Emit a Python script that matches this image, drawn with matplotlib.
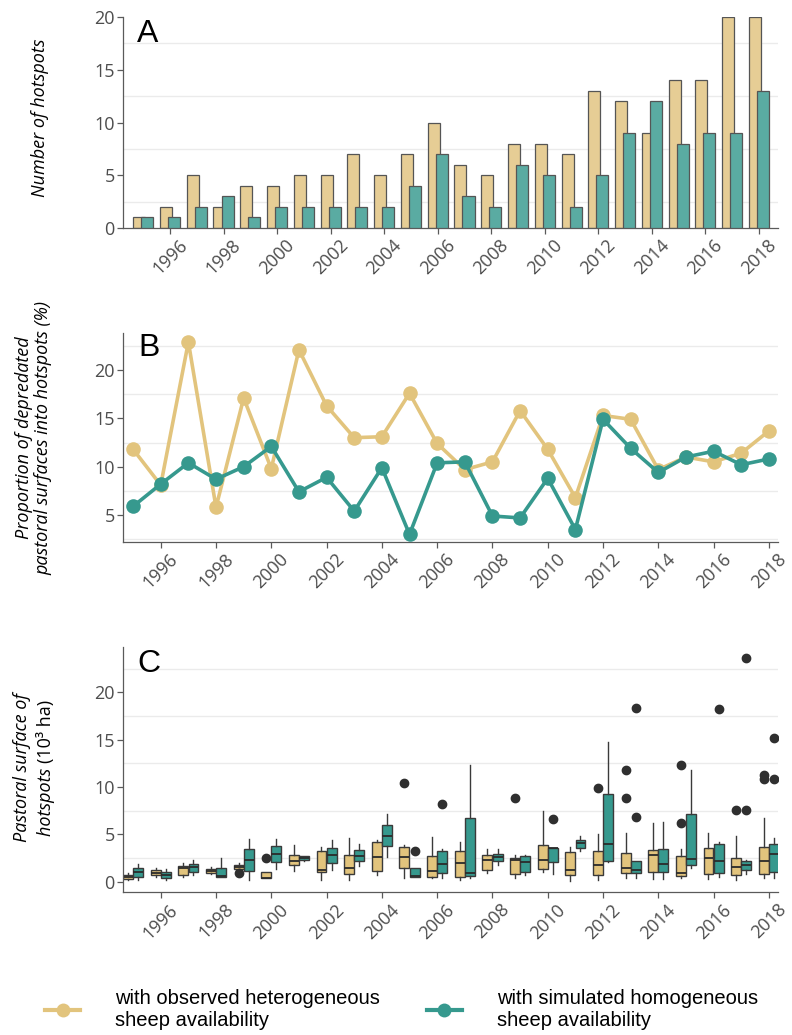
import matplotlib
matplotlib.use("Agg")
import matplotlib.pyplot as plt
from matplotlib.lines import Line2D
import numpy as np

plt.rcParams["font.family"] = ["Open Sans", "DejaVu Sans"]

years = np.arange(1995, 2019)
tick_years = np.arange(1996, 2019, 2)

# Panel A: number of hotspots per year
hotspots_observed = [1, 2, 5, 2, 4, 4, 5, 5, 7, 5, 7, 10, 6, 5, 8, 8, 7, 13, 12, 9, 14, 14, 20, 20]
hotspots_simulated = [1, 1, 2, 3, 1, 2, 2, 2, 2, 2, 4, 7, 3, 2, 6, 5, 2, 5, 9, 12, 8, 9, 9, 13]

# Panel B: proportion of depredated pastoral surfaces inside hotspots (%)
prop_observed = [11.8, 8.1, 22.9, 5.8, 17.1, 9.8, 22.1, 16.3, 13.0, 13.1, 17.6, 12.4,
                 9.7, 10.5, 15.8, 11.8, 6.8, 15.3, 14.9, 9.7, 11.0, 10.5, 11.4, 13.7]
prop_simulated = [5.9, 8.2, 10.4, 8.7, 10.0, 12.1, 7.4, 8.9, 5.4, 9.9, 3.0, 10.4,
                  10.5, 4.9, 4.7, 8.8, 3.5, 14.9, 11.9, 9.4, 11.0, 11.6, 10.2, 10.8]

# Panel C: pastoral surface of hotspots (10^3 ha), box statistics per year
obs_whislo = [0.20, 0.46, 0.46, 0.81, 1.24, 0.36, 1.10, 0.18, 0.18, 0.67, 0.36, 0.36,
              0.18, 0.88, 0.36, 1.02, 0.11, 0.18, 0.36, 0.25, 0.36, 0.25, 0.18, 0.42]
obs_q1 = [0.32, 0.67, 0.67, 0.88, 1.34, 0.36, 1.73, 0.99, 0.78, 1.13, 1.41, 0.53,
          0.46, 1.24, 0.81, 1.38, 0.67, 0.71, 0.88, 1.02, 0.60, 0.78, 0.71, 0.81]
obs_med = [0.50, 0.88, 1.41, 1.13, 1.55, 0.42, 2.22, 1.24, 1.41, 2.61, 2.57, 1.13,
           2.01, 2.29, 2.32, 2.25, 1.24, 1.80, 1.41, 2.82, 0.95, 2.46, 1.52, 2.19]
obs_q3 = [0.75, 1.20, 1.66, 1.38, 1.73, 1.06, 2.85, 3.28, 2.82, 4.16, 3.63, 2.71,
          3.24, 2.85, 2.46, 3.84, 3.10, 3.24, 3.00, 3.31, 2.75, 3.59, 2.46, 3.63]
obs_whishi = [0.95, 1.48, 1.94, 1.52, 1.94, 1.06, 3.84, 3.63, 4.58, 4.40, 3.88, 4.76,
              4.16, 3.42, 2.85, 7.47, 3.63, 5.04, 5.11, 6.16, 3.45, 5.11, 4.79, 6.76]
obs_fliers = [[], [], [], [], [0.88], [2.50], [], [], [], [], [10.46], [],
              [], [], [8.80], [], [], [9.89], [11.8, 8.84], [], [12.36, 6.20], [], [7.54], [11.27, 10.81]]

sim_whislo = [0.18, 0.18, 0.67, 0.50, 0.18, 1.31, 2.22, 1.24, 1.66, 2.64, 0.53, 0.36,
              0.36, 1.76, 0.67, 0.78, 3.28, 2.05, 0.36, 0.25, 1.41, 0.53, 0.81, 0.36]
sim_q1 = [0.53, 0.36, 1.02, 0.53, 1.16, 2.12, 2.29, 1.94, 2.19, 3.77, 0.53, 0.95,
          0.60, 2.19, 1.06, 2.12, 3.59, 2.19, 0.88, 1.06, 1.76, 0.95, 1.24, 1.06]
sim_med = [0.99, 0.74, 1.52, 0.60, 2.29, 2.89, 2.50, 2.82, 2.75, 4.86, 0.60, 1.87,
           0.95, 2.57, 2.08, 3.52, 4.05, 3.95, 1.24, 1.83, 2.40, 2.19, 1.76, 2.89]
sim_q3 = [1.41, 1.02, 1.90, 1.48, 3.42, 3.73, 2.68, 3.52, 3.35, 5.99, 1.41, 3.24,
          6.69, 2.96, 2.71, 3.59, 4.40, 9.23, 2.15, 3.42, 7.11, 3.95, 2.15, 4.00]
sim_whishi = [1.87, 1.34, 2.29, 2.47, 4.47, 4.54, 2.75, 4.40, 3.95, 7.11, 1.41, 3.42,
              12.32, 3.42, 2.85, 3.59, 4.79, 14.72, 2.15, 6.30, 11.80, 4.19, 2.30, 4.58]
sim_fliers = [[], [], [], [], [], [], [], [], [], [], [3.24], [8.20],
              [], [], [], [6.59], [], [], [6.83, 18.34], [], [], [18.2], [7.54, 23.6], [10.85, 15.2]]

legend_labels = ["with observed heterogeneous\nsheep availability",
                 "with simulated homogeneous\nsheep availability"]

# colours
YEL_BAR, TEAL_BAR = "#E6CD95", "#5AABA2"
YEL, TEAL = "#E2C47D", "#36998E"
AXIS_GREY = "#5a5a5a"
GRID = "#ebebeb"

W, H = 792, 1035
fig = plt.figure(figsize=(W / 100, H / 100), dpi=100)


def px_axes(left, top, right, bottom):
    return fig.add_axes([left / W, 1 - bottom / H, (right - left) / W, (bottom - top) / H])


def style_axes(ax, yticks, yminor):
    for s in ("top", "right"):
        ax.spines[s].set_visible(False)
    for s in ("left", "bottom"):
        ax.spines[s].set_color(AXIS_GREY)
        ax.spines[s].set_linewidth(0.9)
    ax.set_xticks(tick_years)
    ax.set_xticklabels([str(y) for y in tick_years], rotation=45, ha="center", va="top")
    ax.set_yticks(yticks)
    ax.set_yticks(yminor, minor=True)
    ax.grid(which="minor", axis="y", color=GRID, linewidth=1.0, zorder=0)
    ax.grid(which="major", visible=False)
    ax.tick_params(which="major", length=4, width=0.9, color=AXIS_GREY,
                   labelcolor="#4d4d4d", labelsize=13, pad=2)
    ax.tick_params(which="minor", length=0)
    ax.set_axisbelow(True)


def panel_letter(ax, left_px, baseline_px, ax_left, ax_top, ax_w, ax_h, letter):
    ax.text((left_px - ax_left) / ax_w, 1 - (baseline_px - ax_top) / ax_h, letter,
            transform=ax.transAxes, fontsize=23, family="Liberation Sans",
            va="baseline", ha="left")


# ---- A: bar chart ----
axA = px_axes(123, 17, 778, 228)
axA.bar(years - 0.15, hotspots_observed, width=0.45, color=YEL_BAR,
        edgecolor="#555555", linewidth=0.9, zorder=2)
axA.bar(years + 0.15, hotspots_simulated, width=0.45, color=TEAL_BAR,
        edgecolor="#555555", linewidth=0.9, zorder=3)
axA.set_xlim(1994.245, 2018.71)
axA.set_ylim(0, 20)
style_axes(axA, [0, 5, 10, 15, 20], [2.5, 7.5, 12.5, 17.5])
panel_letter(axA, 137, 42, 123, 17, 655, 211, "A")

# ---- B: line chart ----
axB = px_axes(123, 333, 778, 542)
axB.plot(years, prop_observed, color=YEL, lw=2.6, marker="o", ms=10.5,
         markeredgewidth=0, zorder=3)
axB.plot(years, prop_simulated, color=TEAL, lw=2.6, marker="o", ms=10.5,
         markeredgewidth=0, zorder=4)
axB.set_xlim(1994.635, 2018.33)
axB.set_ylim(2.21, 23.83)
style_axes(axB, [5, 10, 15, 20], [2.5, 7.5, 12.5, 17.5, 22.5])
panel_letter(axB, 138, 356, 123, 333, 655, 209, "B")

# ---- C: box plots ----
axC = px_axes(123, 647, 778, 892.3)


def box_stats(lo, q1, med, q3, hi, fl):
    return [dict(whislo=a, q1=b, med=c, q3=d, whishi=e, fliers=f)
            for a, b, c, d, e, f in zip(lo, q1, med, q3, hi, fl)]


common = dict(widths=0.36, showcaps=False, patch_artist=True,
              medianprops=dict(color="#2b2b2b", linewidth=1.3),
              whiskerprops=dict(color="#3a3a3a", linewidth=1.0),
              flierprops=dict(marker="o", markerfacecolor="#2f2f2f",
                              markeredgecolor="#2f2f2f", markersize=6))
axC.bxp(box_stats(obs_whislo, obs_q1, obs_med, obs_q3, obs_whishi, obs_fliers),
        positions=years - 0.185, boxprops=dict(facecolor=YEL, edgecolor="#3a3a3a",
                                                linewidth=1.0), **common)
axC.bxp(box_stats(sim_whislo, sim_q1, sim_med, sim_q3, sim_whishi, sim_fliers),
        positions=years + 0.185, boxprops=dict(facecolor=TEAL, edgecolor="#3a3a3a",
                                                linewidth=1.0), **common)
axC.set_xlim(1994.635, 2018.33)
axC.set_ylim(-1.12, 24.78)
style_axes(axC, [0, 5, 10, 15, 20], [2.5, 7.5, 12.5, 17.5, 22.5])
panel_letter(axC, 137, 672, 123, 647, 655, 245.3, "C")

# ---- y-axis titles ----
lab_kw = dict(rotation=90, fontsize=13, style="italic", color="black")
fig.text(40 / W, 1 - 118 / H, "Number of hotspots", ha="center", va="center", **lab_kw)
fig.text(34 / W, 1 - 438 / H, "Proportion of depredated\npastoral surfaces into hotspots (%)",
         ha="center", va="center", linespacing=1.1, **lab_kw)

fig.text(22 / W, 1 - 768 / H, "Pastoral surface of", ha="center", va="center", **lab_kw)
renderer = fig.canvas.get_renderer()
part1 = fig.text(51 / W, 0, "hotspots ", rotation=90, rotation_mode="anchor",
                 ha="left", va="baseline", fontsize=13, style="italic")
part2 = fig.text(51 / W, 0, "(10³ ha)", rotation=90, rotation_mode="anchor",
                 ha="left", va="baseline", fontsize=13)
h1 = part1.get_window_extent(renderer).height
h2 = part2.get_window_extent(renderer).height
start = (H - 768) - (h1 + h2) / 2
part1.set_y(start / H)
part2.set_y((start + h1) / H)

# ---- legend ----
handles = [Line2D([], [], color=YEL, lw=3, marker="o", ms=10, markeredgewidth=0),
           Line2D([], [], color=TEAL, lw=3, marker="o", ms=10, markeredgewidth=0)]
fig.legend(handles, legend_labels, loc="center left", bbox_to_anchor=(45 / W, 1 - 1010 / H),
           ncol=2, frameon=False, handlelength=1.75, handletextpad=1.75, columnspacing=2.3,
           borderpad=0, borderaxespad=0, labelspacing=0.3,
           prop=dict(family="Liberation Sans", size=14.5))

fig.savefig("out.png", dpi=100)
